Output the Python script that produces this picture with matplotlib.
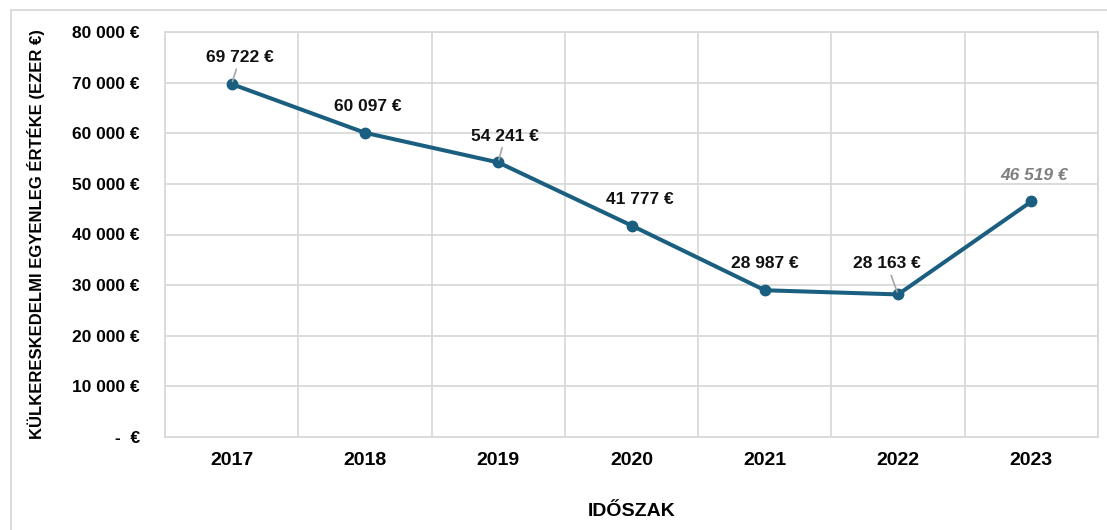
import matplotlib.pyplot as plt
from matplotlib.lines import Line2D
from matplotlib import font_manager

years = ['2017', '2018', '2019', '2020', '2021', '2022', '2023']
balance = [69722, 60097, 54241, 41777, 28987, 28163, 46519]
yticks = [0, 10000, 20000, 30000, 40000, 50000, 60000, 70000, 80000]

names = {f.name for f in font_manager.fontManager.ttflist}
narrow = 'Liberation Sans Narrow' if 'Liberation Sans Narrow' in names else 'Liberation Sans'
plt.rcParams['font.family'] = [narrow, 'DejaVu Sans']
plt.rcParams['font.weight'] = 'bold'

line_col = '#1b5f80'
grid_col = '#d9d9d9'


def eur(v):
    if v == 0:
        return '-  €'
    return '{:,}'.format(int(v)).replace(',', ' ') + ' €'


fig = plt.figure(figsize=(11.07, 5.30), dpi=100)
ax = fig.add_axes([165 / 1107, 93 / 530, 933 / 1107, 405 / 530])

x = list(range(len(years)))
ax.plot(x, balance, color=line_col, lw=2.9, marker='o', ms=7.5, zorder=3)

ax.set_xlim(-0.5, 6.5)
ax.set_ylim(0, 80000)
ax.set_yticks(yticks)
ax.set_yticklabels([eur(v) for v in yticks], fontsize=12.5, fontweight='bold')
ax.set_xticks(x)
ax.set_xticklabels(years, fontsize=14, fontweight='bold')
ax.set_xticks([i - 0.5 for i in range(len(years) + 1)], minor=True)
ax.tick_params(axis='both', which='both', length=0)
ax.tick_params(axis='y', pad=18)
ax.tick_params(axis='x', pad=11)
ax.grid(axis='y', which='major', color=grid_col, lw=1.3)
ax.grid(axis='x', which='minor', color=grid_col, lw=1.3)
ax.set_axisbelow(True)
for s in ax.spines.values():
    s.set_color(grid_col)
    s.set_linewidth(1.3)

ax.set_ylabel('KÜLKERESKEDELMI EGYENLEG ÉRTÉKE (EZER €)', fontsize=12,
              fontweight='bold', labelpad=20)
ax.set_xlabel('IDŐSZAK', fontsize=14, fontweight='bold', labelpad=24)

# label offsets in points (dx, dy) and whether a leader line is drawn
offsets = [(6, 19), (2, 19), (5, 19), (6, 19), (0, 19), (-8, 22), (2, 19)]
leaders = [True, False, True, False, False, True, False]
for i, (v, (dx, dy), lead) in enumerate(zip(balance, offsets, leaders)):
    last = i == len(balance) - 1
    ax.annotate(eur(v), (i, v), xytext=(dx, dy), textcoords='offset points',
                ha='center', va='center', fontsize=12.5,
                fontweight='bold', style='italic' if last else 'normal',
                color='#7f7f7f' if last else '#111111',
                arrowprops=dict(arrowstyle='-', color='#a6a6a6', lw=1.2,
                                shrinkA=1, shrinkB=2) if lead else None)

# outer frame of the chart object
fig.add_artist(Line2D([11 / 1107, 11 / 1107], [0, 1 - 10 / 530], color=grid_col, lw=1.3))
fig.add_artist(Line2D([11 / 1107, 1], [1 - 10 / 530, 1 - 10 / 530], color=grid_col, lw=1.3))

fig.savefig('out.png', dpi=100)
